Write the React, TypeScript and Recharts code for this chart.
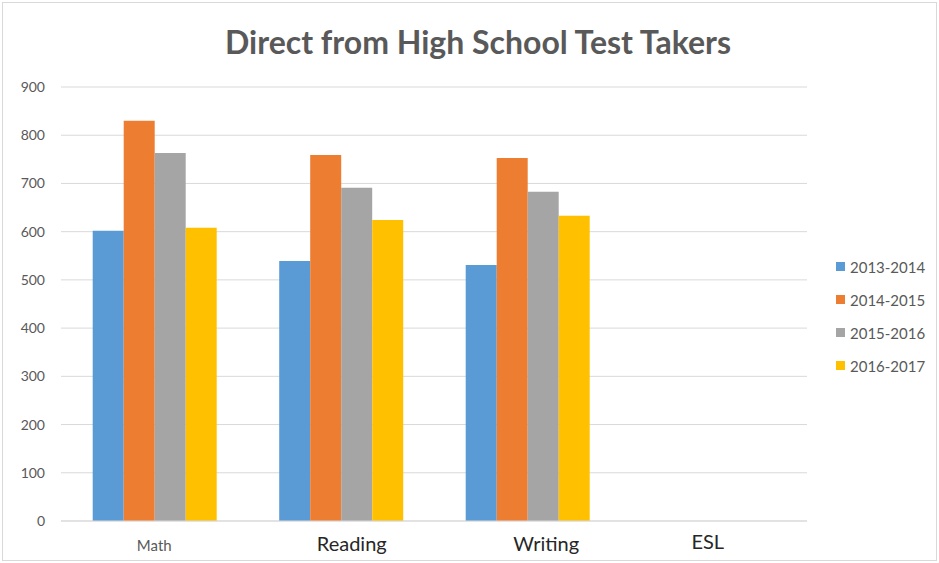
import React from 'react';
import { BarChart, Bar, XAxis, YAxis, CartesianGrid, Legend } from 'recharts';

const categories = ['Math', 'Reading', 'Writing', 'ESL'];
const y2013 = [602, 539, 531, null];
const y2014 = [830, 759, 753, null];
const y2015 = [763, 691, 683, null];
const y2016 = [608, 624, 633, null];
const yTicks = [0, 100, 200, 300, 400, 500, 600, 700, 800, 900];

const series = [
  { key: '2013-2014', values: y2013, color: '#5B9BD5' },
  { key: '2014-2015', values: y2014, color: '#ED7D31' },
  { key: '2015-2016', values: y2015, color: '#A5A5A5' },
  { key: '2016-2017', values: y2016, color: '#FFC000' },
];

const data = categories.map((name, i) => {
  const row: Record<string, string | number | null> = { name };
  series.forEach((s) => {
    row[s.key] = s.values[i];
  });
  return row;
});

const font = 'Lato, "Liberation Sans", sans-serif';

// the original labels sit a little off their category centres
const labelShift: Record<string, number> = { Math: 0, Reading: 11, Writing: 19, ESL: -6 };

const CategoryTick = (props: any) => {
  const { x, y, payload } = props;
  const small = payload.value === 'Math';
  return (
    <text
      x={x + (labelShift[payload.value] || 0)}
      y={y + (payload.value === 'ESL' ? 20 : 22)}
      textAnchor="middle"
      fontFamily={font}
      fontSize={small ? 15 : 20}
      fill={small ? '#595959' : '#262626'}
    >
      {payload.value}
    </text>
  );
};

const LegendContent = () => (
  <div style={{ fontFamily: font, fontSize: 15, color: '#595959' }}>
    {series.map((s) => (
      <div key={s.key} style={{ display: 'flex', alignItems: 'center', height: 33 }}>
        <span style={{ width: 9, height: 9, background: s.color, marginRight: 5, display: 'inline-block' }} />
        {s.key}
      </div>
    ))}
  </div>
);

const App: React.FC = () => {
  return (
    <div style={{ position: 'absolute', left: 0, top: 0, width: 939, height: 563, background: '#fff' }}>
      <div
        style={{
          position: 'absolute',
          left: 2,
          top: 2,
          width: 933,
          height: 557,
          border: '1px solid #d9d9d9',
        }}
      />
      <div
        style={{
          position: 'absolute',
          left: 0,
          top: 22,
          width: 956,
          textAlign: 'center',
          fontFamily: font,
          fontSize: 32,
          fontWeight: 700,
          color: '#595959',
        }}
      >
        Direct from High School Test Takers
      </div>
      <BarChart
        width={939}
        height={563}
        data={data}
        margin={{ top: 87, right: 132, bottom: 12, left: 0 }}
        barCategoryGap="17%"
        barGap={0}
      >
        <CartesianGrid vertical={false} stroke="#d9d9d9" />
        <XAxis
          dataKey="name"
          axisLine={{ stroke: '#d9d9d9' }}
          tickLine={false}
          height={30}
          tick={<CategoryTick />}
        />
        <YAxis
          domain={[0, 900]}
          ticks={yTicks}
          width={61}
          axisLine={false}
          tickLine={false}
          tick={{ fontSize: 14, fill: '#595959', fontFamily: font }}
          tickMargin={10}
        />
        <Legend
          layout="vertical"
          align="center"
          verticalAlign="middle"
          content={<LegendContent />}
          wrapperStyle={{ position: 'absolute', left: 836, top: 250, width: 100 }}
        />
        {series.map((s) => (
          <Bar key={s.key} dataKey={s.key} fill={s.color} isAnimationActive={false} />
        ))}
      </BarChart>
    </div>
  );
};

export default App;
